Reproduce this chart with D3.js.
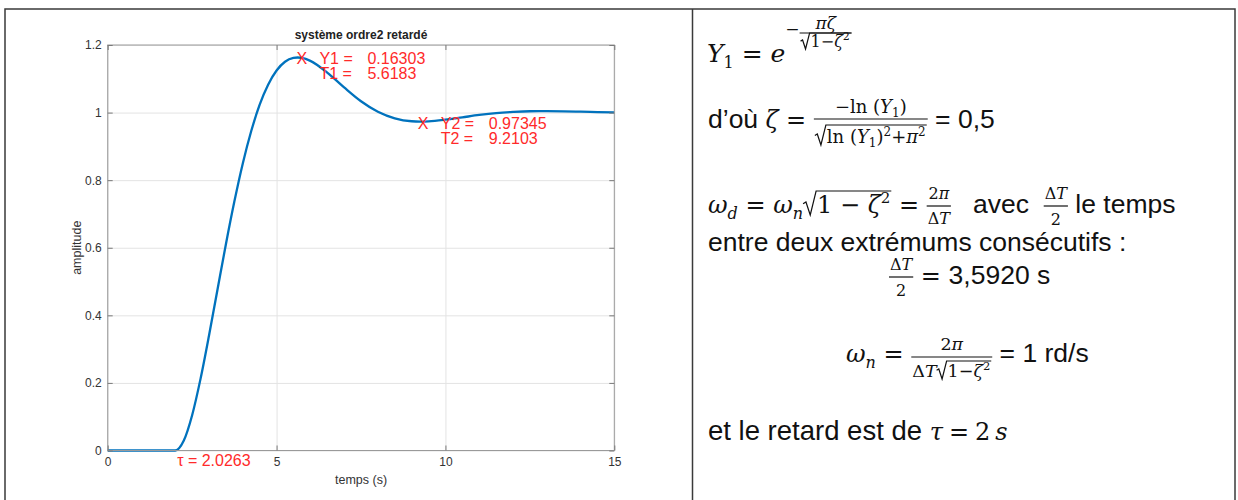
<!DOCTYPE html>
<html><head><meta charset="utf-8">
<script src="https://cdn.jsdelivr.net/npm/d3@7"></script>
<style>html,body{margin:0;padding:0;background:#fff}svg{display:block}</style>
</head><body>
<svg id="c" width="1238" height="500"></svg>
<script>
// ---------- data ----------
const times = [0, 1, 2, 2.25, 2.5, 2.75, 3, 3.25, 3.5, 3.75, 4, 4.25, 4.5, 4.75, 5, 5.25, 5.5, 5.625, 5.75, 6, 6.5, 7, 7.5, 8, 8.5, 9, 9.25, 9.5, 10, 10.5, 11, 11.5, 12, 12.5, 13, 13.5, 14, 14.5, 15];
const amplitude = [0, 0, 0, 0.0286, 0.1044, 0.2127, 0.3403, 0.4758, 0.6106, 0.7366, 0.8495, 0.9454, 1.0236, 1.0826, 1.1245, 1.1503, 1.1617, 1.1630, 1.1618, 1.1531, 1.1184, 1.0745, 1.0336, 1.0024, 0.9829, 0.9743, 0.9735, 0.9741, 0.9790, 0.9859, 0.9929, 0.9985, 1.0020, 1.0040, 1.0042, 1.0037, 1.0026, 1.0014, 1.0004];
const xTicks = [0, 5, 10, 15];
const yTicks = [0, 0.2, 0.4, 0.6, 0.8, 1, 1.2];
const yTickLabels = ["0", "0.2", "0.4", "0.6", "0.8", "1", "1.2"];
const markerT = [5.6183, 9.2103];
const markerY = [1.16303, 0.97345];
const markerYNames = ["Y1 =", "Y2 ="];
const markerYValues = ["0.16303", "0.97345"];
const markerTNames = ["T1 =", "T2 ="];
const markerTValues = ["5.6183", "9.2103"];
const tau = 2.0263;
const tauLabel = "τ = 2.0263";
const title = "système ordre2 retardé";
const xLabel = "temps (s)";
const yLabel = "amplitude";

const SANS = "'Liberation Sans', Arial, Helvetica, sans-serif";
const SERIF = "'DejaVu Serif', 'Liberation Serif', serif";
const svg = d3.select("#c");

// ---------- frame ----------
svg.append("rect").attr("x", 5).attr("y", 9).attr("width", 1230).attr("height", 500)
  .attr("fill", "none").attr("stroke", "#3a3a3a").attr("stroke-width", 1.5);
svg.append("line").attr("x1", 692.5).attr("x2", 692.5).attr("y1", 9).attr("y2", 500)
  .attr("stroke", "#3a3a3a").attr("stroke-width", 1.5);

// ---------- chart ----------
const L = 107.7, R = 614.3, T = 45, B = 450.5;
const x = d3.scaleLinear().domain([0, 15]).range([L, R]);
const y = d3.scaleLinear().domain([0, 1.2]).range([B, T]);
const g = svg.append("g");

// grid
g.append("g").attr("transform", `translate(0,${B})`)
  .call(d3.axisBottom(x).tickValues(xTicks).tickSize(-(B - T)).tickFormat(""))
  .call(s => { s.select(".domain").remove(); s.selectAll("line").attr("stroke", "#e3e3e3"); });
g.append("g").attr("transform", `translate(${L},0)`)
  .call(d3.axisLeft(y).tickValues(yTicks).tickSize(-(R - L)).tickFormat(""))
  .call(s => { s.select(".domain").remove(); s.selectAll("line").attr("stroke", "#e3e3e3"); });

// curve
const line = d3.line().x((d, i) => x(times[i])).y(d => y(d)).curve(d3.curveMonotoneX);
g.append("path").datum(amplitude).attr("d", line).attr("fill", "none")
  .attr("stroke", "#0072BD").attr("stroke-width", 2.3).attr("stroke-linejoin", "round");

// axes box
g.append("rect").attr("x", L).attr("y", T).attr("width", R - L).attr("height", B - T)
  .attr("fill", "none").attr("stroke", "#9a9a9a").attr("stroke-width", 1);

const styleAxis = s => {
  s.select(".domain").remove();
  s.selectAll("line").attr("stroke", "#7a7a7a");
  s.selectAll("text").attr("fill", "#333").attr("font-size", 12).attr("font-family", SANS);
};
g.append("g").attr("transform", `translate(0,${B})`)
  .call(d3.axisBottom(x).tickValues(xTicks).tickSize(-5).tickPadding(7).tickFormat(d3.format("d")))
  .call(styleAxis);
g.append("g").attr("transform", `translate(0,${T})`)
  .call(d3.axisTop(x).tickValues(xTicks).tickSize(-5).tickFormat(""))
  .call(styleAxis);
g.append("g").attr("transform", `translate(${L},0)`)
  .call(d3.axisLeft(y).tickValues(yTicks).tickSize(-5).tickPadding(6).tickFormat((d, i) => yTickLabels[i]))
  .call(styleAxis);
g.append("g").attr("transform", `translate(${R},0)`)
  .call(d3.axisRight(y).tickValues(yTicks).tickSize(-5).tickFormat(""))
  .call(styleAxis);

// titles
g.append("text").attr("x", (L + R) / 2).attr("y", 39).attr("text-anchor", "middle")
  .attr("font-family", SANS).attr("font-weight", "bold").attr("font-size", 12).attr("fill", "#222").text(title);
g.append("text").attr("x", (L + R) / 2).attr("y", 484).attr("text-anchor", "middle")
  .attr("font-family", SANS).attr("font-size", 12.5).attr("fill", "#333").text(xLabel);
g.append("text").attr("transform", `translate(81,${(T + B) / 2}) rotate(-90)`).attr("text-anchor", "middle")
  .attr("font-family", SANS).attr("font-size", 12.5).attr("fill", "#333").text(yLabel);

// markers & annotations
const RED = "#ff2a2a";
markerT.forEach((t, i) => {
  const px = x(t), py = y(markerY[i]);
  const a = g.append("g").attr("font-family", SANS).attr("font-size", 16).attr("fill", RED);
  a.append("text").attr("x", px - 1).attr("y", py + 7).text("X");
  a.append("text").attr("x", px + 22).attr("y", py + 7).text(markerYNames[i]);
  a.append("text").attr("x", px + 70).attr("y", py + 7).text(markerYValues[i]);
  a.append("text").attr("x", px + 22).attr("y", py + 22).text(markerTNames[i]);
  a.append("text").attr("x", px + 70).attr("y", py + 22).text(markerTValues[i]);
});
g.append("text").attr("x", x(tau) + 1).attr("y", B + 15).attr("font-family", SANS)
  .attr("font-size", 16).attr("fill", RED).text(tauLabel);

// ---------- right panel (math) ----------
const P = svg.append("g").attr("fill", "#111");
const nb = s => s.replace(/ /g, "\u00A0");
// lays out items left to right starting at absolute x0, returns absolute end x
function lay(par, items, x0, y0) {
  let cx = x0;
  for (const it of items) {
    if (it.sp !== undefined) { cx += it.sp; continue; }
    if (it.txt !== undefined) {
      const t = par.append("text").attr("x", cx).attr("y", y0 + (it.dy || 0))
        .attr("font-family", it.fam || SERIF).attr("font-size", it.s || 24)
        .attr("font-style", it.it ? "italic" : "normal").text(nb(it.txt));
      cx += t.node().getComputedTextLength();
      continue;
    }
    if (it.frac) {
      const by = y0 + (it.dy || 0);
      const gn = par.append("g"), gd = par.append("g");
      const wn = lay(gn, it.frac[0], 0, 0), wd = lay(gd, it.frac[1], 0, 0);
      const pad = it.pad === undefined ? 2 : it.pad;
      const W = Math.max(wn, wd) + 2 * pad;
      gn.attr("transform", `translate(${cx + (W - wn) / 2},${by + it.ny})`);
      gd.attr("transform", `translate(${cx + (W - wd) / 2},${by + it.dny})`);
      par.append("line").attr("x1", cx).attr("x2", cx + W).attr("y1", by + it.bar).attr("y2", by + it.bar)
        .attr("stroke", "#111").attr("stroke-width", 1.2);
      cx += W;
      continue;
    }
    if (it.sqrt) {
      const h = it.h, rw = it.rw || h * 0.55;
      const start = cx;
      const end = lay(par, it.sqrt, cx + rw + 1, y0);
      par.append("path").attr("d",
        `M${start},${y0 - h * 0.42} L${start + rw * 0.22},${y0 - h * 0.5} L${start + rw * 0.55},${y0 + 2} L${start + rw},${y0 - h} L${end + 1},${y0 - h}`)
        .attr("fill", "none").attr("stroke", "#111").attr("stroke-width", 1.2).attr("stroke-linejoin", "miter");
      cx = end + 1;
      continue;
    }
  }
  return cx;
}
const S = (txt, s) => ({ txt, s: s || 26.5, fam: SANS });
const M = (txt, s, dy) => ({ txt, s: s || 24, dy: dy || 0 });
const I = (txt, s, dy) => ({ txt, s: s || 24, it: true, dy: dy || 0 });

// line 1: Y1 = e^(-πζ/√(1-ζ²))
lay(P, [I("Y", 25), M("1", 16, 6), M(" = ", 25), I("e", 25), M("−", 17, -27),
  { frac: [[I("πζ", 17)], [{ sqrt: [M("1−", 16), I("ζ", 16), M("2", 11, -7)], h: 14, rw: 9 }]], ny: -33, dny: -15, bar: -29, pad: 1 }
], 707, 62);

// line 2: d'où ζ = -ln(Y1)/√(ln(Y1)²+π²) = 0,5
lay(P, [S("d’où "), I("ζ"), M(" = "),
  { frac: [[M("−ln (", 18), I("Y", 18), M("1", 12, 4), M(")", 18)],
           [{ sqrt: [M("ln (", 18), I("Y", 18), M("1", 12, 4), M(")", 18), M("2", 12, -7), M("+", 18), I("π", 18), M("2", 12, -7)], h: 18, rw: 11 }]],
    ny: -15, dny: 15, bar: -9, pad: 1 },
  S(" = 0,5")
], 708, 128);

// line 3: ωd = ωn√(1-ζ²) = 2π/ΔT avec ΔT/2 le temps
lay(P, [I("ω"), I("d", 16, 6), M(" = "), I("ω"), I("n", 16, 6), { sqrt: [M("1 − "), I("ζ"), M("2", 15, -10)], h: 22, rw: 13 },
  M(" = "), { frac: [[M("2", 16), I("π", 16)], [M("Δ", 16), I("T", 16)]], ny: -14, dny: 11, bar: -7, pad: 1 },
  S("   avec  "), { frac: [[M("Δ", 16), I("T", 16)], [M("2", 16)]], ny: -14, dny: 12, bar: -7, pad: 1 },
  S(" le temps")
], 708, 213);

// line 4
lay(P, [S("entre deux extrémums consécutifs :")], 708, 251);

// line 5: ΔT/2 = 3,5920 s
lay(P, [{ frac: [[M("Δ", 16), I("T", 16)], [M("2", 16)]], ny: -14, dny: 12, bar: -7, pad: 1 },
  M(" = "), S("3,5920 s")
], 889, 284);

// line 6: ωn = 2π/(ΔT√(1-ζ²)) = 1 rd/s
lay(P, [I("ω"), I("n", 16, 6), M(" = "),
  { frac: [[M("2", 17.5), I("π", 17.5)], [M("Δ", 17.5), I("T", 17.5), { sqrt: [M("1−", 17.5), I("ζ", 17.5), M("2", 11.5, -7)], h: 16, rw: 10 }]], ny: -12, dny: 15, bar: -5, pad: 1 },
  S(" = 1 rd/s")
], 846, 362);

// line 7
lay(P, [S("et le retard est de ", 27.5), I("τ"), { sp: 6 }, M("="), { sp: 6 }, M("2"), { sp: 5 }, I("s")], 708, 440);
</script>
</body></html>
